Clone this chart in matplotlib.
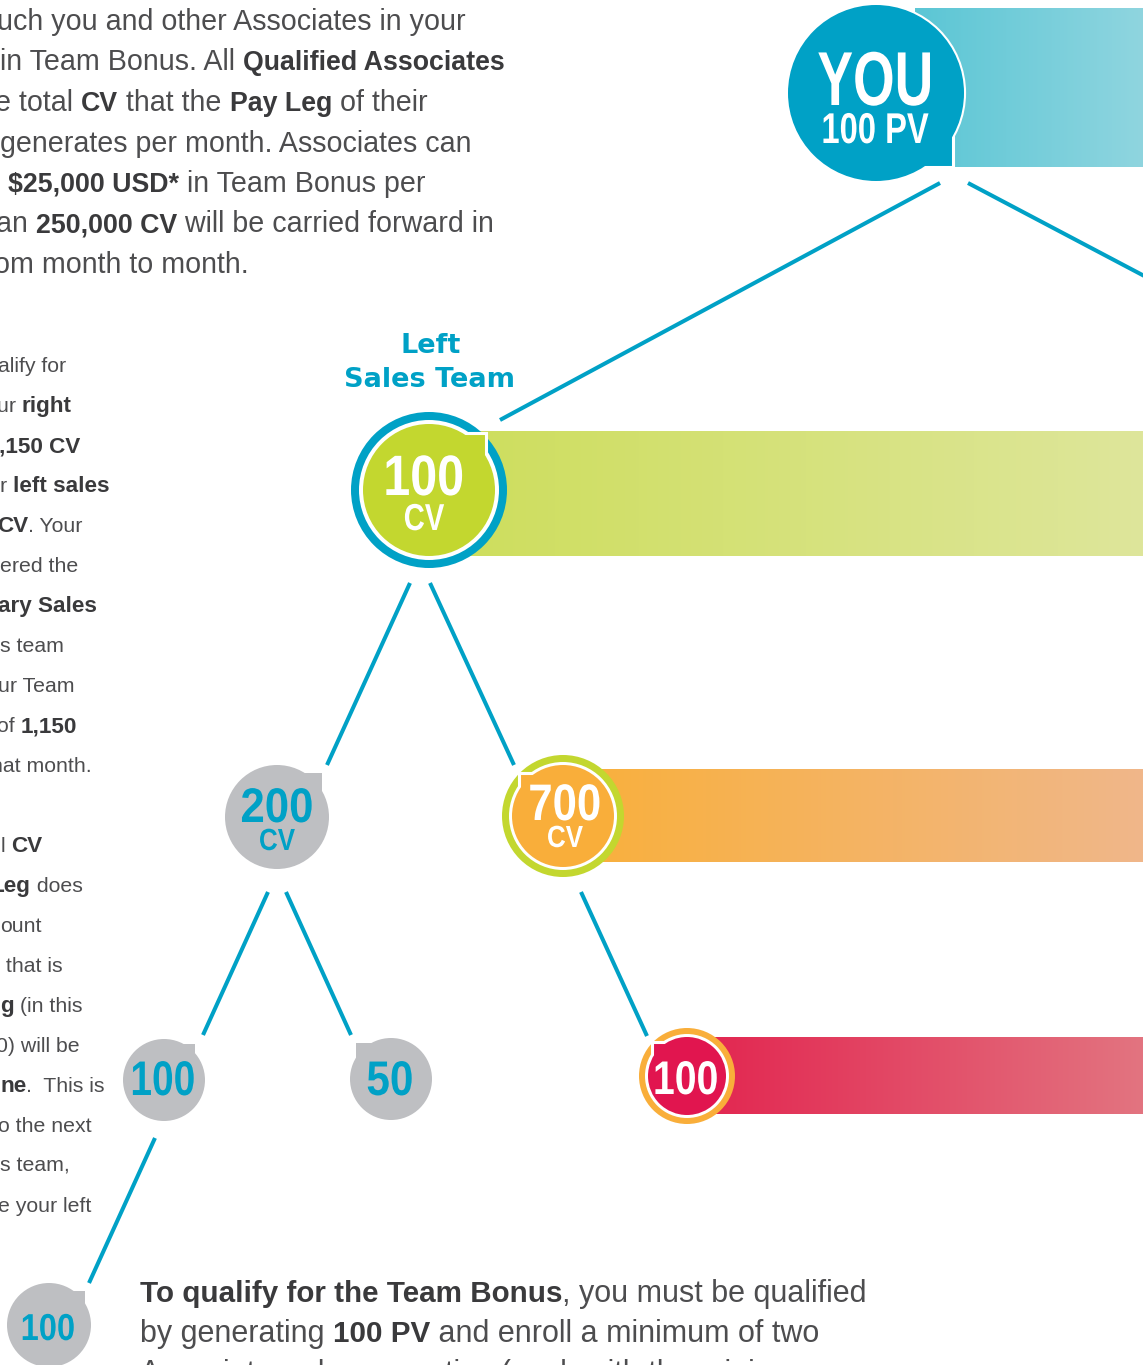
import numpy as np
import matplotlib
matplotlib.use("Agg")
import matplotlib.pyplot as plt
from matplotlib.patches import Circle, Rectangle
from matplotlib.font_manager import FontProperties
from matplotlib.patheffects import AbstractPathEffect
from matplotlib.transforms import Affine2D
import matplotlib.colors as mcolors

# ---- content -------------------------------------------------------------
you_label = "YOU"
you_pv = "100 PV"
team_title = ["Left", "Sales Team"]

# CV values of the nodes in the left sales team
node_values = ["100", "200", "700", "100", "50", "100", "100"]
node_units = ["CV", "CV", "CV", "", "", "", ""]

top_lines = [
    [("uch you and other Associates in your", False)],
    [("in Team Bonus. All ", False), ("Qualified Associates", True)],
    [("e total ", False), ("CV", True), (" that the ", False), ("Pay Leg", True), (" of their", False)],
    [("generates per month. Associates can", False)],
    [("$25,000 USD*", True), (" in Team Bonus per", False)],
    [("an ", False), ("250,000 CV", True), (" will be carried forward in", False)],
    [("om month to month.", False)],
]
top_x = [-3, 0, -5, 0, 8, -4, -6]

side_lines_a = [
    [("alify for", False)],
    [("ur ", False), ("right", True)],
    [(",150 CV", True)],
    [("r ", False), ("left sales", True)],
    [("CV", True), (". Your", False)],
    [("ered the", False)],
    [("ary Sales", True)],
    [("s team", False)],
    [("ur Team", False)],
    [("of ", False), ("1,150", True)],
    [("hat month.", False)],
]
side_x_a = [-2, -3, -1, 0, -3, 0, -2, 0, -2, -3, -9]

side_lines_b = [
    [("l ", False), ("CV", True)],
    [("Leg", True), (" does", False)],
    [("ount", False)],
    [(" that is", False)],
    [("g", True), (" (in this", False)],
    [("0) will be", False)],
    [("ne", True), (".  This is", False)],
    [("o the next", False)],
    [("s team,", False)],
    [("e your left", False)],
]
side_x_b = [1, -9, 0, 0, 0, -4, 0, -2, 0, -2]

bottom_lines = [
    [("To qualify for the Team Bonus", True), (", you must be qualified", False)],
    [("by generating ", False), ("100 PV", True), (" and enroll a minimum of two", False)],
    [("Associates who are active (each with the minimum", False)],
]

# ---- style -----------------------------------------------------------------
TEAL = "#00A1C6"
GREEN = "#C3D72F"
ORANGE = "#F9AE3A"
RED = "#E1154F"
GRAY = "#BEBFC2"
TXT = "#4D4D4F"
TXT_B = "#3A3A3C"
NUM_FONT = ["Liberation Sans", "DejaVu Sans"]
BODY_FONT = ["Liberation Sans", "DejaVu Sans"]

W, H = 1143, 1365
fig = plt.figure(figsize=(W / 100, H / 100), dpi=100)
ax = fig.add_axes([0, 0, 1, 1])
ax.set_xlim(0, W)
ax.set_ylim(H, 0)
ax.axis("off")


class Condense(AbstractPathEffect):
    """squeeze the glyphs horizontally around their own centre"""

    def __init__(self, sx):
        super().__init__()
        self.sx = sx

    def draw_path(self, renderer, gc, tpath, affine, rgbFace=None):
        v = tpath.vertices
        cx = 0.5 * (v[:, 0].min() + v[:, 0].max())
        t = Affine2D().translate(-cx, 0).scale(self.sx, 1).translate(cx, 0) + affine
        renderer.draw_path(gc, tpath, t, rgbFace)


def gradient_bar(x0, x1, y0, y1, c0, c1):
    a = np.array(mcolors.to_rgb(c0))
    b = np.array(mcolors.to_rgb(c1))
    t = np.linspace(0, 1, 256)[:, None]
    img = (a + (b - a) * t)[None, :, :]
    ax.imshow(img, extent=[x0, x1, y1, y0], aspect="auto", zorder=1,
              interpolation="bilinear")


def link(p0, p1):
    ax.plot([p0[0], p1[0]], [p0[1], p1[1]], color=TEAL, lw=2.9,
            solid_capstyle="butt", zorder=2)


def corner_rect(cx, cy, dx, dy, fc, edge):
    ax.add_patch(Rectangle((min(cx, cx + dx), min(cy, cy + dy)), abs(dx), abs(dy),
                           facecolor=fc, edgecolor="white" if edge else "none",
                           lw=2.2 if edge else 0, zorder=4))


def node(cx, cy, r, fill, corner, ring=None, ring_w=0, gap=0):
    if ring is not None:
        ax.add_patch(Circle((cx, cy), r, facecolor=ring, edgecolor="none", zorder=3))
        ax.add_patch(Circle((cx, cy), r - ring_w, facecolor="white", edgecolor="none", zorder=3))
        corner_rect(cx, cy, corner[0], corner[1], fill, True)
        ax.add_patch(Circle((cx, cy), r - ring_w - gap, facecolor=fill,
                            edgecolor="none", zorder=5))
    else:
        corner_rect(cx, cy, corner[0], corner[1], fill, False)
        ax.add_patch(Circle((cx, cy), r, facecolor=fill, edgecolor="none", zorder=5))


def label(x, y, s, size, color, sx):
    ax.text(x, y, s, fontsize=size, family=NUM_FONT, fontweight="bold", color=color,
            ha="center", va="baseline", zorder=10, path_effects=[Condense(sx)])


renderer = fig.canvas.get_renderer()


def text_width(s, size, bold, family):
    fp = FontProperties(family=family, size=size, weight="bold" if bold else "normal")
    w1, _, _ = renderer.get_text_width_height_descent(s + "|", fp, ismath=False)
    w2, _, _ = renderer.get_text_width_height_descent("|", fp, ismath=False)
    return w1 - w2


def rich_line(x, y, parts, size, bsize):
    for s, bold in parts:
        sz = bsize if bold else size
        ax.text(x, y, s, fontsize=sz, family=BODY_FONT,
                fontweight="bold" if bold else "normal",
                color=TXT_B if bold else TXT, ha="left", va="baseline", zorder=10)
        x += text_width(s, sz, bold, BODY_FONT)


# ---- bars ------------------------------------------------------------------
gradient_bar(915, W, 8, 167, "#5BC6D5", "#8FD5DF")
gradient_bar(470, W, 431, 556, "#CEDE5E", "#DEE69B")
gradient_bar(580, W, 769, 862, "#F9B03C", "#F0B78A")
gradient_bar(690, W, 1037, 1114, "#E2244F", "#E37480")

# ---- connecting lines ------------------------------------------------------
link((940, 183), (500, 420))
link((968, 183), (1150, 279))
link((410, 583), (327, 765))
link((430, 583), (514, 765))
link((268, 892), (203, 1035))
link((286, 892), (351, 1035))
link((581, 892), (647, 1036))
link((155, 1138), (89, 1283))

# ---- YOU node --------------------------------------------------------------
ax.add_patch(Circle((876, 93), 88, facecolor=TEAL, edgecolor="white", lw=3, zorder=3))
corner_rect(876, 93, 77, 74, TEAL, True)
ax.add_patch(Circle((876, 93), 88, facecolor=TEAL, edgecolor="none", zorder=5))
label(876, 105, you_label, 55, "white", 0.70)
label(875, 143, you_pv, 31, "white", 0.76)

# ---- team nodes ------------------------------------------------------------
node(429, 490, 78, GREEN, (57, -57), ring=TEAL, ring_w=8, gap=4)
node(277, 817, 52, GRAY, (45, -44))
node(563, 816, 61, ORANGE, (-44, -43), ring=GREEN, ring_w=7, gap=3)
node(164, 1080, 41, GRAY, (31, -36))
node(391, 1079, 41, GRAY, (-35, -36))
node(687, 1076, 48, RED, (-35, -34), ring=ORANGE, ring_w=6, gap=3)
node(49, 1325, 42, GRAY, (36, -34))

num_pos = [(424, 495), (277, 822), (565, 820), (163, 1095), (390, 1095), (686, 1094), (48, 1340)]
num_size = [41, 35, 37, 35, 35, 34, 27]
num_sx = [0.85, 0.9, 0.85, 0.8, 0.87, 0.83, 0.87]
unit_pos = [(424, 530), (277, 850), (565, 847)]
unit_size = [27, 22, 22]
unit_sx = [0.78, 0.85, 0.85]
num_color = ["white", TEAL, "white", TEAL, TEAL, "white", TEAL]

for i, v in enumerate(node_values):
    label(num_pos[i][0], num_pos[i][1], v, num_size[i], num_color[i], num_sx[i])
    if node_units[i]:
        label(unit_pos[i][0], unit_pos[i][1], node_units[i], unit_size[i],
              num_color[i], unit_sx[i])

ax.text(431, 353, team_title[0], fontsize=19.5, family=["DejaVu Sans"], fontweight="bold",
        color=TEAL, ha="center", va="baseline", zorder=10)
ax.text(430, 387, team_title[1], fontsize=19.5, family=["DejaVu Sans"], fontweight="bold",
        color=TEAL, ha="center", va="baseline", zorder=10)

# ---- paragraphs ------------------------------------------------------------
for i, parts in enumerate(top_lines):
    rich_line(top_x[i], 30 + 40.5 * i, parts, 20.6, 19.3)

for i, parts in enumerate(side_lines_a):
    rich_line(side_x_a[i], 372 + 40 * i, parts, 15.3, 16.2)

for i, parts in enumerate(side_lines_b):
    rich_line(side_x_b[i], 852 + 40 * i, parts, 15.3, 16.2)

bottom_y = [1302, 1342, 1382]
for i, parts in enumerate(bottom_lines):
    rich_line(140, bottom_y[i], parts, 22, 21.3)

fig.savefig("out.png", dpi=100, facecolor="white")
